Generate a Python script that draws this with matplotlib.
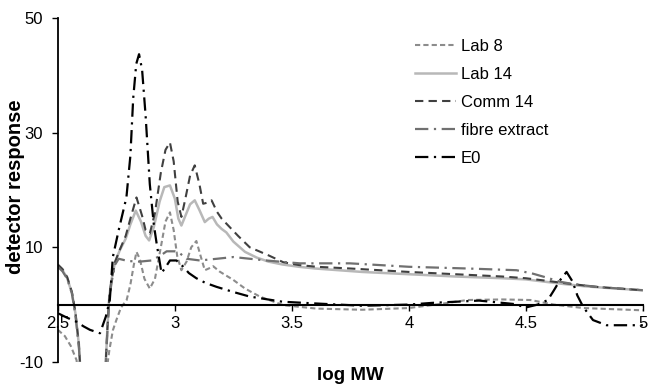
import matplotlib
matplotlib.use("Agg")
import matplotlib.pyplot as plt

plt.rcParams['font.family'] = ['Liberation Sans', 'DejaVu Sans']
plt.rcParams['axes.unicode_minus'] = False

# values (log MW vs detector response)
lab8_x = [2.5, 2.53, 2.555, 2.58, 2.59, 2.70, 2.72, 2.735, 2.75, 2.77, 2.794, 2.81, 2.825, 2.836,
          2.85, 2.87, 2.893, 2.915, 2.94, 2.96, 2.979, 2.995, 3.01, 3.028, 3.05, 3.07, 3.092, 3.11,
          3.128, 3.145, 3.164, 3.19, 3.25, 3.3, 3.363, 3.463, 3.606, 3.8, 4.0, 4.15, 4.25, 4.4,
          4.52, 4.62, 4.745, 5.0]
lab8_y = [-4.4, -5.5, -7.2, -9.7, -14, -14, -8, -4.5, -2.7, -0.5, 0.8, 3.5, 7, 9.2,
          8, 4.5, 2.8, 4.5, 10, 14.5, 16.1, 13, 8.5, 6.0, 7.5, 10, 11.1, 8.5,
          6.0, 6.3, 6.7, 5.8, 4.3, 2.8, 1.4, -0.1, -0.7, -0.9, -0.6, 0.2, 0.8, 0.9,
          0.8, 0.0, -0.6, -1.0]

lab14_x = [2.5, 2.52, 2.54, 2.56, 2.575, 2.59, 2.60, 2.70, 2.712, 2.72, 2.73, 2.745, 2.765, 2.79,
           2.81, 2.833, 2.855, 2.875, 2.89, 2.91, 2.935, 2.955, 2.979, 3.0, 3.015, 3.028, 3.045,
           3.065, 3.085, 3.105, 3.128, 3.145, 3.161, 3.18, 3.2, 3.22, 3.25, 3.3, 3.35, 3.4, 3.46,
           3.53, 3.6, 3.7, 3.8, 4.0, 4.2, 4.4, 4.5, 4.58, 4.66, 4.75, 4.85, 5.0]
lab14_y = [6.8, 6.0, 4.6, 2.0, -1.5, -7, -14, -14, -4, 1.5, 4.5, 7.5, 9.5, 11.5,
           14, 16.4, 14.5, 12, 11.2, 13.5, 18, 20.5, 20.8, 18.5, 15, 13.8, 15.5,
           17.5, 18.2, 16.5, 14.4, 15, 15.3, 14, 13.2, 12.6, 11, 9.2, 8.2, 7.5, 7.0,
           6.6, 6.3, 6.0, 5.7, 5.3, 4.9, 4.6, 4.4, 4.0, 3.6, 3.2, 2.9, 2.5]

comm14_x = [2.5, 2.52, 2.54, 2.56, 2.575, 2.59, 2.60, 2.70, 2.712, 2.72, 2.73, 2.745, 2.765, 2.79,
            2.81, 2.836, 2.86, 2.875, 2.893, 2.915, 2.94, 2.96, 2.979, 2.995, 3.012, 3.028, 3.045,
            3.065, 3.085, 3.105, 3.121, 3.14, 3.157, 3.18, 3.2, 3.221, 3.27, 3.32, 3.4, 3.463,
            3.53, 3.606, 3.75, 4.0, 4.2, 4.4, 4.5, 4.58, 4.674, 4.8, 5.0]
comm14_y = [7.0, 6.2, 4.8, 2.2, -1.3, -7, -14, -14, -4, 1.5, 4.5, 7.5, 9.6, 12,
            15, 18.7, 15.5, 13, 12.4, 16, 23, 27, 28.3, 25, 18, 15.3, 18.5,
            22.5, 24.3, 21, 17.6, 17.8, 18.2, 16.2, 15, 14.1, 12, 10, 8.6, 7.4,
            6.9, 6.6, 6.3, 5.7, 5.3, 4.9, 4.6, 4.2, 3.7, 3.1, 2.5]

fibre_x = [2.5, 2.52, 2.54, 2.56, 2.575, 2.59, 2.60, 2.70, 2.712, 2.72, 2.73, 2.745, 2.76, 2.8,
           2.85, 2.9, 2.94, 2.965, 3.0, 3.02, 3.05, 3.107, 3.18, 3.25, 3.32, 3.39, 3.534, 3.748,
           4.0, 4.25, 4.46, 4.53, 4.59, 4.645, 4.7, 4.8, 5.0]
fibre_y = [6.6, 5.8, 4.5, 2.0, -1.8, -7.5, -14, -14, -4.5, 1.0, 4.0, 7.0, 8.0, 7.6,
           7.5, 7.7, 8.6, 9.3, 9.3, 9.0, 8.0, 7.7, 8.0, 8.3, 8.0, 7.7, 7.2, 7.2,
           6.6, 6.3, 6.0, 5.4, 4.7, 4.0, 3.6, 3.1, 2.5]

e0_x = [2.5, 2.54, 2.58, 2.61, 2.637, 2.68, 2.705, 2.722, 2.735, 2.76, 2.793, 2.81, 2.822, 2.835,
        2.847, 2.86, 2.875, 2.893, 2.91, 2.922, 2.943, 2.96, 2.979, 3.007, 3.036, 3.06, 3.092,
        3.13, 3.178, 3.25, 3.32, 3.46, 3.6, 3.8, 4.0, 4.1, 4.2, 4.3, 4.4, 4.45, 4.5, 4.55, 4.594,
        4.62, 4.645, 4.674, 4.7, 4.72, 4.745, 4.787, 4.845, 4.9, 5.0]
e0_y = [-1.5, -2.3, -3.0, -3.8, -4.4, -5.0, -2.1, 0.8, 8.3, 13, 18.7, 26, 36, 42,
        43.7, 41, 33, 21, 14, 10.7, 5.5, 6.5, 7.7, 7.7, 6.6, 5.5, 4.6,
        3.8, 3.1, 2.2, 1.4, 0.5, 0.2, -0.2, 0.0, 0.3, 0.5, 0.7, 0.3, 0.1, -0.5, 0.0, 0.8,
        2.5, 4.2, 5.7, 4.0, 1.6, -0.4, -2.7, -3.6, -3.6, -3.6]

x_ticks = [2.5, 3, 3.5, 4, 4.5, 5]
x_tick_labels = ["2.5", "3", "3.5", "4", "4.5", "5"]
y_ticks = [-10, 10, 30, 50]

fig = plt.figure(figsize=(6.5, 3.85), dpi=100)
ax = fig.add_axes([0.089, 0.06, 0.9, 0.893])

ax.plot(lab8_x, lab8_y, color="#8c8c8c", lw=1.5, dashes=(2.5, 1.5), label="Lab 8")
ax.plot(lab14_x, lab14_y, color="#b8b8b8", lw=1.8, label="Lab 14")
ax.plot(comm14_x, comm14_y, color="#404040", lw=1.5, dashes=(4, 2.5), label="Comm 14")
ax.plot(fibre_x, fibre_y, color="#707070", lw=1.6, dashes=(6, 2.5, 1, 2.5), label="fibre extract")
ax.plot(e0_x, e0_y, color="black", lw=1.6, dashes=(6, 2.5, 1, 2.5), label="E0")

ax.set_xlim(2.5, 5)
ax.set_ylim(-10, 50)
ax.spines['top'].set_visible(False)
ax.spines['right'].set_visible(False)
ax.spines['bottom'].set_position(('data', 0))
ax.spines['bottom'].set_linewidth(1.5)
ax.spines['left'].set_linewidth(1.3)

ax.set_xticks(x_ticks)
ax.set_xticklabels(x_tick_labels)
ax.set_yticks(y_ticks)
ax.tick_params(axis='both', labelsize=12, direction='out', length=4.5, width=1)
ax.tick_params(axis='x', pad=4)
ax.tick_params(axis='y', pad=6)

ax.set_ylabel("detector response", fontsize=14.5, fontweight='bold')
ax.yaxis.set_label_coords(-0.057, 0.51)
ax.set_xlabel("log MW", fontsize=13.5, fontweight='bold')
ax.xaxis.set_label_coords(0.5, -0.015)

ax.legend(loc='upper left', bbox_to_anchor=(0.61, 0.94), frameon=False, fontsize=12,
          handlelength=2.45, handletextpad=0.3, labelspacing=0.78, borderaxespad=0, borderpad=0)

fig.savefig("out.png", dpi=100)
